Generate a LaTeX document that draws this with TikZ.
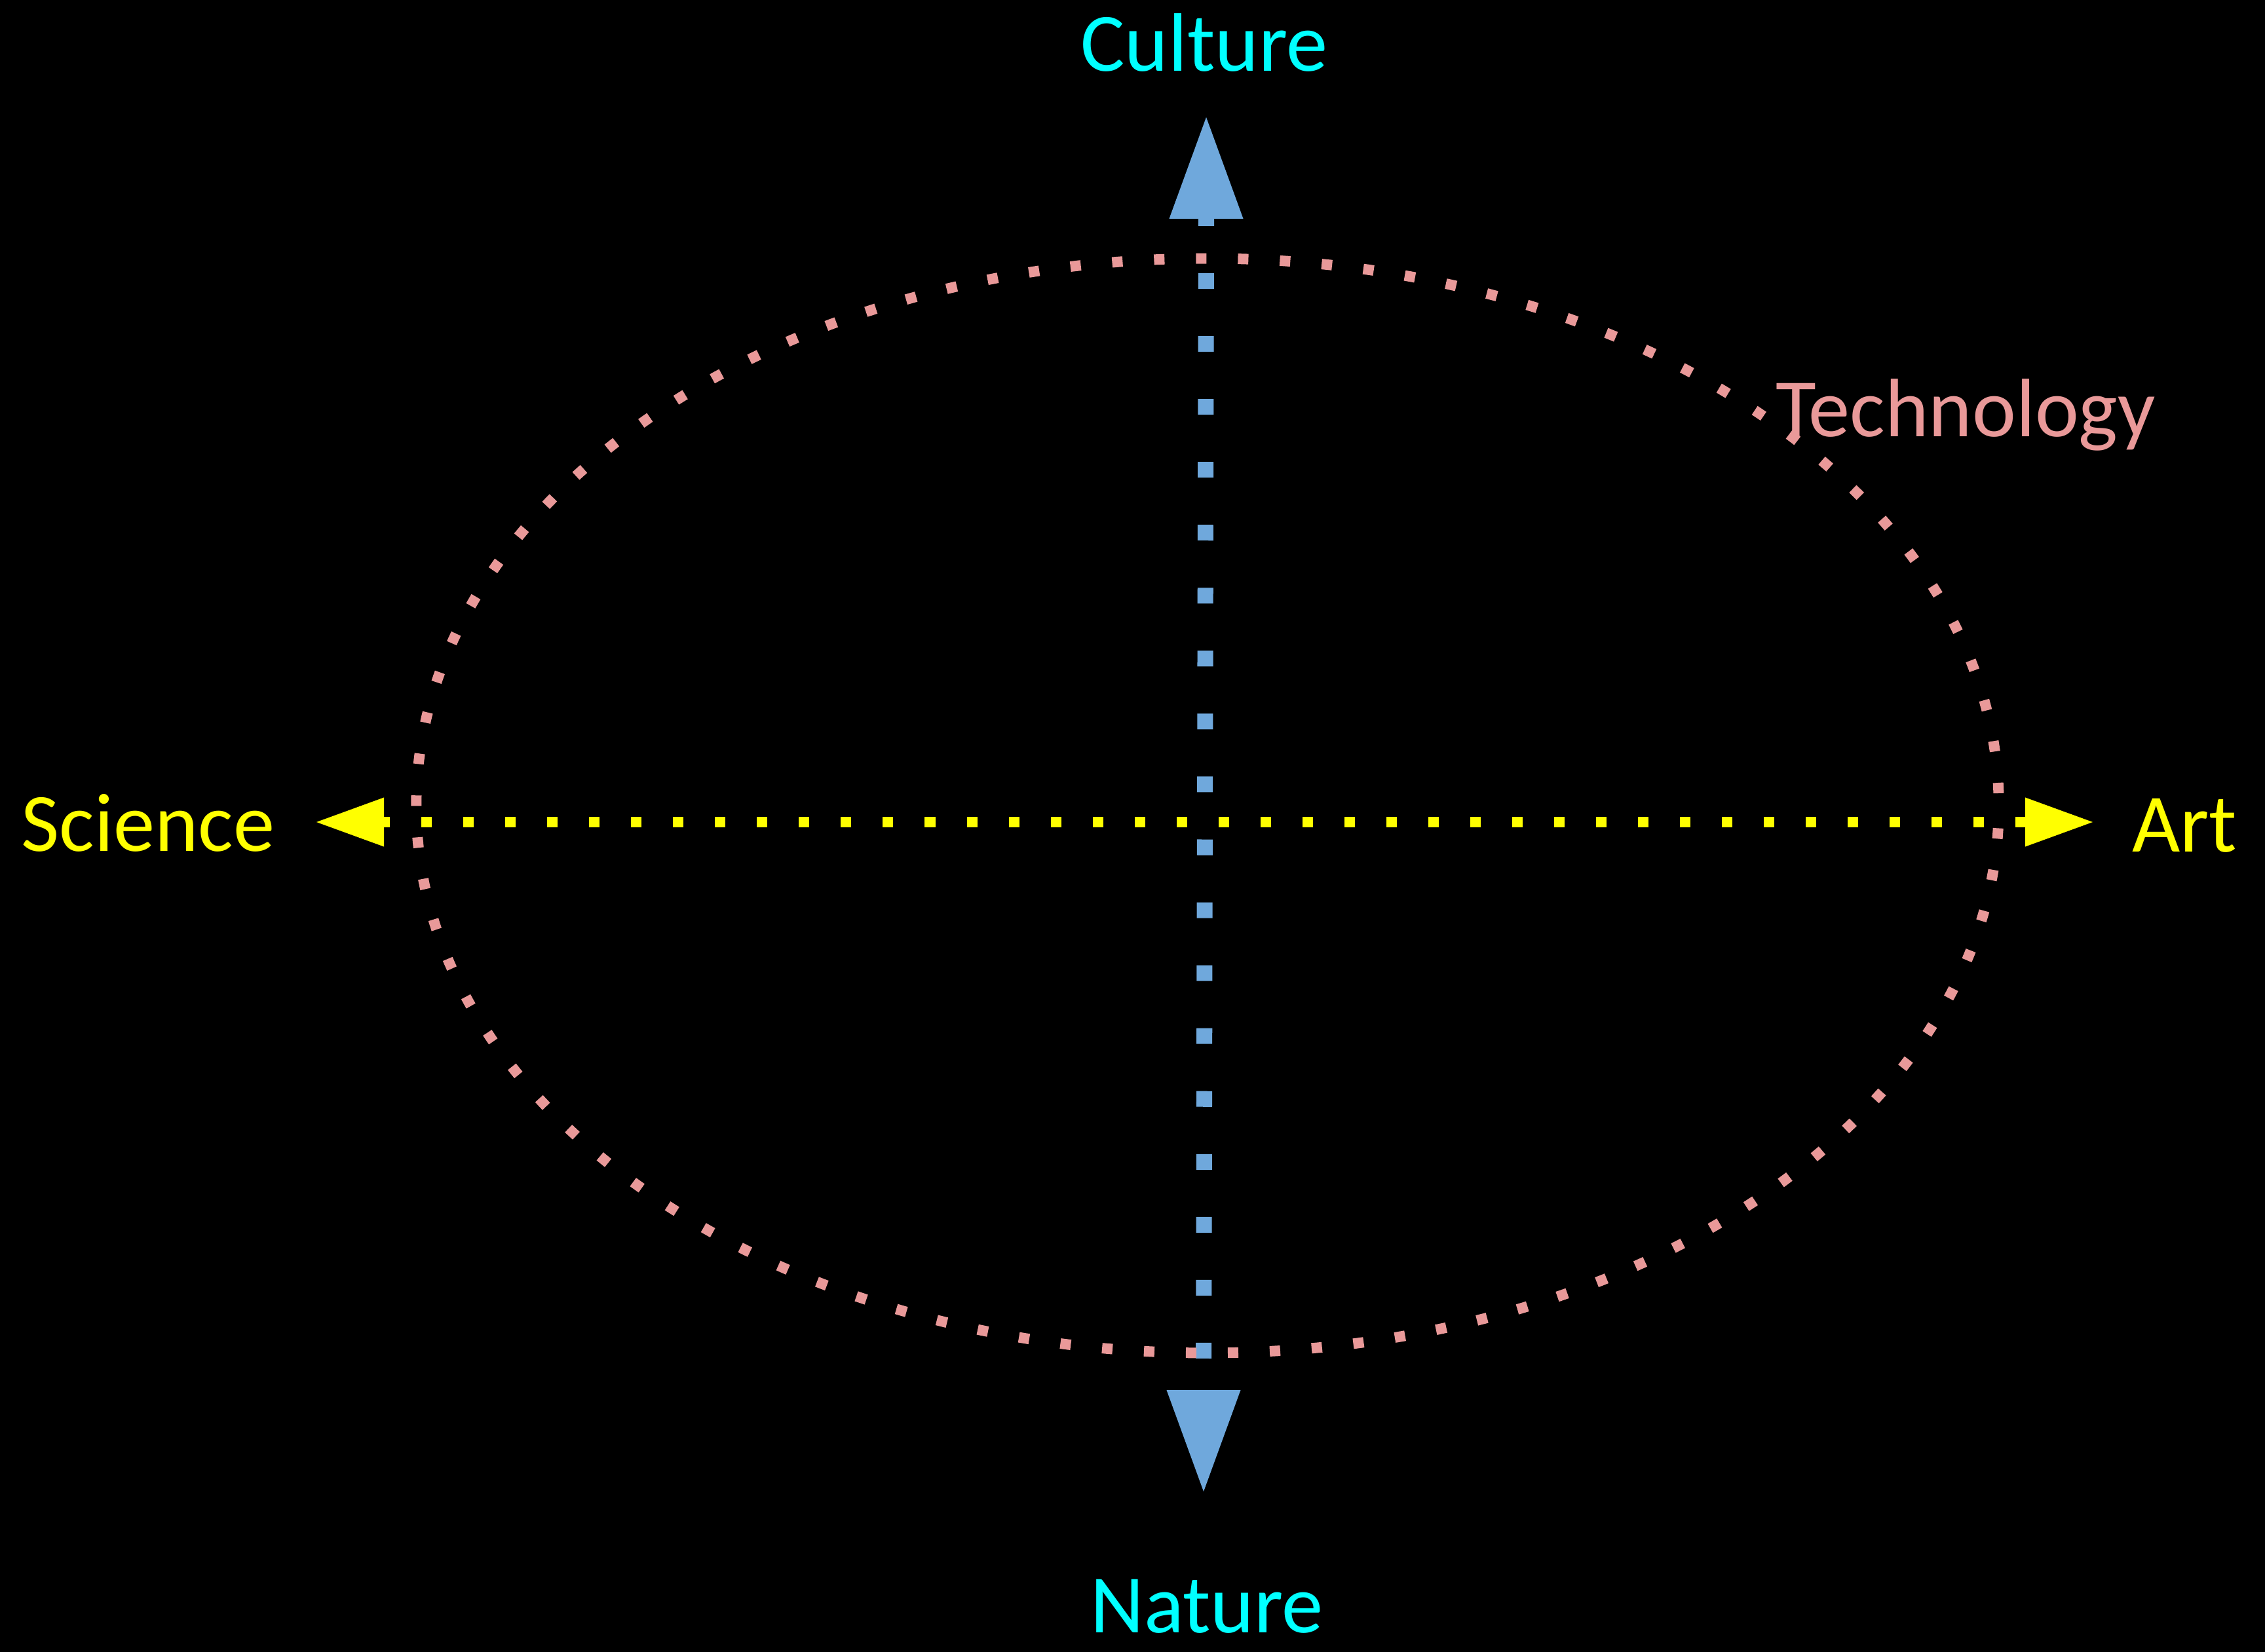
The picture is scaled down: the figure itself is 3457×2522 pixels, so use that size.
\documentclass[tikz,border=0pt]{standalone}
\usepackage{fontspec}
\setmainfont{Carlito}
\definecolor{axisblue}{RGB}{111,168,220}
\definecolor{techpink}{RGB}{233,153,153}
\definecolor{cyantext}{RGB}{0,255,255}
\definecolor{yel}{RGB}{255,255,0}
\begin{document}
\begin{tikzpicture}[x=0.01cm,y=-0.01cm,
  lbl/.style={font=\fontsize{36}{43}\selectfont, inner sep=0pt, anchor=base},
  bluedots/.style={draw=axisblue, line width=0.24cm, dash pattern=on 0.24cm off 0.72cm, dash phase=0.48cm},
  yeldots/.style={draw=yel, line width=0.16cm, dash pattern=on 0.16cm off 0.48cm, dash phase=0.07cm},
  pinkdots/.style={draw=techpink, line width=0.16cm, dash pattern=on 0.16cm off 0.48cm, dash phase=0.45cm}]
\fill[black] (0,0) rectangle (3457,2522);
\useasboundingbox (0,0) rectangle (3457,2522);
% key points
\coordinate (ntip) at (1841,179);
\coordinate (nbase) at (1841,334);
\coordinate (stip) at (1837,2277);
\coordinate (sbase) at (1837,2122);
\coordinate (wtip) at (483,1255);
\coordinate (wbase) at (586,1255);
\coordinate (etip) at (3194,1255);
\coordinate (ebase) at (3091,1255);
\coordinate (c) at (1843,1230);
% vertical axis
\draw[bluedots] (sbase) -- (nbase);
\fill[axisblue] (ntip) -- ([xshift=-0.565cm]nbase) -- ([xshift=0.565cm]nbase) -- cycle;
\fill[axisblue] (stip) -- ([xshift=-0.565cm]sbase) -- ([xshift=0.565cm]sbase) -- cycle;
% horizontal axis
\draw[yeldots] (wbase) -- (ebase);
\fill[yel] (wtip) -- ([yshift=0.375cm]wbase) -- ([yshift=-0.375cm]wbase) -- cycle;
\fill[yel] (etip) -- ([yshift=0.375cm]ebase) -- ([yshift=-0.375cm]ebase) -- cycle;
% ellipse
\draw[pinkdots] (c) ellipse [x radius=12.07cm, y radius=8.35cm];
% labels
\node[lbl, text=cyantext] (culture) at (1838,109) {Culture};
\node[lbl, text=cyantext] (nature) at (1842,2492) {Nature};
\node[lbl, text=yel] (science) at (226,1299) {Science};
\node[lbl, text=yel] (art) at (3334,1300) {Art};
\node[lbl, text=techpink] (tech) at (3000,667) {Technology};
\end{tikzpicture}
\end{document}
